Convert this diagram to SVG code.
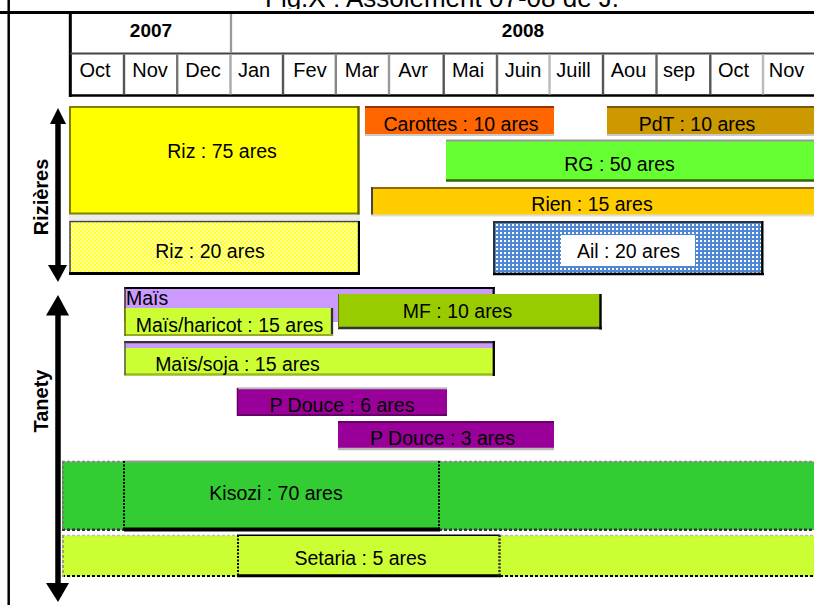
<svg xmlns="http://www.w3.org/2000/svg" width="814" height="605" viewBox="0 0 814 605">
<defs>
<style>
text{font-family:"Liberation Sans",Arial,sans-serif;fill:#000}
.lbl{font-size:19.5px;text-anchor:middle}
.mon{font-size:20px;text-anchor:middle}
.yr{font-size:19px;font-weight:bold;text-anchor:middle}
.ax{font-size:20px;font-weight:bold;text-anchor:middle}
.dv{stroke-width:2.4}
.ah{fill:#000}
.dash{fill:none;stroke-dasharray:3 2}
</style>
<pattern id="pyel" width="4" height="4" patternUnits="userSpaceOnUse">
<rect width="4" height="4" fill="#ffff33"/>
<rect width="2" height="2" fill="#ffffa0"/>
<rect x="2" y="2" width="2" height="2" fill="#ffffa0"/>
</pattern>
<pattern id="pblue" width="4" height="4" patternUnits="userSpaceOnUse">
<rect width="4" height="4" fill="#4f86d6"/>
<rect width="2" height="2" fill="#ffffff"/>
</pattern>
<clipPath id="tclip"><rect x="0" y="0" width="814" height="9"/></clipPath>
</defs>
<rect width="814" height="605" fill="#fff"/>

<g id="title" clip-path="url(#tclip)">
<text x="265" y="7" font-size="26">Fig.X : Assolement 07-08 de J.</text>
</g>

<g id="frame" stroke="#000">
<line x1="8.7" y1="0" x2="8.7" y2="605" stroke-width="2.5"/>
<line x1="0" y1="12.5" x2="814" y2="12.5" stroke-width="3"/>
</g>

<g id="header">
<line x1="70.3" y1="12" x2="70.3" y2="97" stroke="#000" stroke-width="3"/>
<line x1="70" y1="53.5" x2="814" y2="53.5" stroke="#444" stroke-width="1.8"/>
<line x1="69" y1="95.5" x2="814" y2="95.5" stroke="#000" stroke-width="2.5"/>
<line x1="231" y1="14" x2="231" y2="53" stroke="#999" stroke-width="2.3"/>
<g class="dv">
<line x1="124" y1="54.5" x2="124" y2="94.5" stroke="#555"/>
<line x1="177.2" y1="54.5" x2="177.2" y2="94.5" stroke="#777"/>
<line x1="230.5" y1="54.5" x2="230.5" y2="94.5" stroke="#aaa"/>
<line x1="283" y1="54.5" x2="283" y2="94.5" stroke="#555"/>
<line x1="335.8" y1="54.5" x2="335.8" y2="94.5" stroke="#888"/>
<line x1="389" y1="54.5" x2="389" y2="94.5" stroke="#999"/>
<line x1="443.7" y1="54.5" x2="443.7" y2="94.5" stroke="#555"/>
<line x1="497" y1="54.5" x2="497" y2="94.5" stroke="#666"/>
<line x1="549.5" y1="54.5" x2="549.5" y2="94.5" stroke="#bbb"/>
<line x1="603" y1="54.5" x2="603" y2="94.5" stroke="#555"/>
<line x1="656.5" y1="54.5" x2="656.5" y2="94.5" stroke="#666"/>
<line x1="710.3" y1="54.5" x2="710.3" y2="94.5" stroke="#555"/>
<line x1="763" y1="54.5" x2="763" y2="94.5" stroke="#bbb"/>
</g>
<text class="yr" x="151" y="37">2007</text>
<text class="yr" x="523" y="37">2008</text>
<text class="mon" x="95" y="77">Oct</text>
<text class="mon" x="150" y="77">Nov</text>
<text class="mon" x="203" y="77">Dec</text>
<text class="mon" x="254" y="77">Jan</text>
<text class="mon" x="310" y="77">Fev</text>
<text class="mon" x="362" y="77">Mar</text>
<text class="mon" x="413" y="77">Avr</text>
<text class="mon" x="468" y="77">Mai</text>
<text class="mon" x="523" y="77">Juin</text>
<text class="mon" x="573.5" y="77">Juill</text>
<text class="mon" x="628.5" y="77">Aou</text>
<text class="mon" x="679" y="77">sep</text>
<text class="mon" x="733.5" y="77">Oct</text>
<text class="mon" x="786.5" y="77">Nov</text>
</g>

<g id="axis-labels">
<text class="ax" transform="translate(47.5,197) rotate(-90)">Rizières</text>
<text class="ax" transform="translate(47.5,401) rotate(-90)">Tanety</text>
</g>

<g id="connectors">
<line x1="58" y1="120" x2="58" y2="268" stroke="#000" stroke-width="5.5"/>
<polygon class="ah" points="58,108 50,124 66,124"/>
<polygon class="ah" points="48,265 67,265 58,282"/>
<line x1="58" y1="312" x2="58" y2="586" stroke="#000" stroke-width="5.5"/>
<polygon class="ah" points="58,295 46,315.5 69,315.5"/>
<polygon class="ah" points="46,583 69,583 58,602"/>
</g>

<g id="riz75">
<rect x="69" y="214" width="291" height="6" fill="#ececec"/>
<rect x="70" y="107" width="288.5" height="106.5" fill="#ffff00" stroke="#808000" stroke-width="2"/>
<line x1="358.5" y1="106" x2="358.5" y2="214.5" stroke="#5c5c00" stroke-width="2"/>
<text class="lbl" x="222" y="158">Riz : 75 ares</text>
</g>

<g id="riz20">
<rect x="70" y="221.5" width="288.5" height="51.5" fill="url(#pyel)" stroke="#444" stroke-width="1.5"/>
<line x1="69" y1="273.5" x2="360" y2="273.5" stroke="#000" stroke-width="3"/>
<line x1="359" y1="221" x2="359" y2="275" stroke="#000" stroke-width="2"/>
<text class="lbl" x="210" y="258">Riz : 20 ares</text>
</g>

<g id="carottes">
<rect x="365" y="107" width="189" height="27.5" fill="#ff6600"/>
<line x1="365" y1="107" x2="554" y2="107" stroke="#993300" stroke-width="2"/>
<line x1="365" y1="135" x2="554" y2="135" stroke="#c8c8c8" stroke-width="2"/>
<text class="lbl" x="461" y="131">Carottes : 10 ares</text>
</g>

<g id="pdt">
<rect x="607" y="107" width="207" height="27.5" fill="#cc9900"/>
<line x1="607" y1="107" x2="814" y2="107" stroke="#7a5c00" stroke-width="2"/>
<line x1="607" y1="135" x2="814" y2="135" stroke="#c8c8c8" stroke-width="2"/>
<text class="lbl" x="697" y="131">PdT : 10 ares</text>
</g>

<g id="rg">
<rect x="446" y="140" width="368" height="41" fill="#66ff33"/>
<line x1="446" y1="140.5" x2="814" y2="140.5" stroke="#999" stroke-width="2.2"/>
<line x1="446" y1="180.5" x2="814" y2="180.5" stroke="#336600" stroke-width="2.5"/>
<text class="lbl" x="619.5" y="171">RG : 50 ares</text>
</g>

<g id="rien">
<rect x="371" y="188" width="443" height="27" fill="#ffcc00"/>
<line x1="371" y1="188" x2="814" y2="188" stroke="#996600" stroke-width="2"/>
<line x1="372" y1="187" x2="372" y2="215" stroke="#444" stroke-width="2"/>
<line x1="371" y1="215.5" x2="814" y2="215.5" stroke="#ddd" stroke-width="2"/>
<text class="lbl" x="592" y="211">Rien : 15 ares</text>
</g>

<g id="ail">
<rect x="494" y="222" width="268" height="52" fill="url(#pblue)" stroke="#333" stroke-width="2"/>
<line x1="493" y1="274" x2="764" y2="274" stroke="#000" stroke-width="2.5"/>
<line x1="762.5" y1="221" x2="762.5" y2="275" stroke="#000" stroke-width="2"/>
<rect x="561" y="235" width="134" height="31" fill="#fff"/>
<text class="lbl" x="628.5" y="258">Ail : 20 ares</text>
</g>

<g id="mais">
<rect x="124.5" y="288" width="369" height="34" fill="#cc99ff"/>
<line x1="124" y1="288" x2="495" y2="288" stroke="#000" stroke-width="2.2"/>
<line x1="125" y1="287" x2="125" y2="322" stroke="#333" stroke-width="1.5"/>
<line x1="493.7" y1="287" x2="493.7" y2="322" stroke="#000" stroke-width="2.2"/>
<text x="126" y="305" font-size="19.5">Maïs</text>
</g>

<g id="mais-haricot">
<rect x="124.5" y="308" width="208" height="27" fill="#ccff33"/>
<line x1="332" y1="308" x2="332" y2="336" stroke="#333" stroke-width="2.3"/>
<line x1="124.5" y1="335" x2="333" y2="335" stroke="#99aa22" stroke-width="2"/>
<line x1="125" y1="308" x2="125" y2="336" stroke="#666600" stroke-width="1.5"/>
<text class="lbl" x="229.5" y="332">Maïs/haricot : 15 ares</text>
</g>

<g id="mf">
<rect x="338" y="294" width="263" height="34" fill="#99cc00"/>
<line x1="338" y1="328" x2="602" y2="328" stroke="#333" stroke-width="2.6"/>
<line x1="600.5" y1="294" x2="600.5" y2="329.5" stroke="#000" stroke-width="2.4"/>
<line x1="338.5" y1="294" x2="338.5" y2="328" stroke="#5c7a00" stroke-width="1"/>
<text class="lbl" x="457.5" y="318">MF : 10 ares</text>
</g>

<g id="mais-soja">
<rect x="124.5" y="343" width="369" height="32" fill="#ccff33"/>
<rect x="124.5" y="343" width="369" height="5" fill="#cc99ff"/>
<line x1="124" y1="342.2" x2="495" y2="342.2" stroke="#333" stroke-width="2.3"/>
<line x1="124" y1="374.5" x2="494" y2="374.5" stroke="#99bb22" stroke-width="2.3"/>
<line x1="493.8" y1="341" x2="493.8" y2="376" stroke="#000" stroke-width="2.3"/>
<line x1="125" y1="342" x2="125" y2="375" stroke="#555" stroke-width="1.5"/>
<text class="lbl" x="237.5" y="371">Maïs/soja : 15 ares</text>
</g>

<g id="pdouce6">
<rect x="237" y="388" width="210" height="27" fill="#990099"/>
<line x1="237" y1="388.3" x2="447" y2="388.3" stroke="#bbb" stroke-width="2"/>
<line x1="237" y1="415" x2="447" y2="415" stroke="#660066" stroke-width="2"/>
<line x1="237.5" y1="388" x2="237.5" y2="416" stroke="#660066" stroke-width="1.5"/>
<text class="lbl" x="342" y="412">P Douce : 6 ares</text>
</g>

<g id="pdouce3">
<rect x="338" y="422" width="216" height="27" fill="#990099"/>
<line x1="338" y1="422" x2="554" y2="422" stroke="#660066" stroke-width="2"/>
<line x1="338" y1="449" x2="554" y2="449" stroke="#bbb" stroke-width="2.6"/>
<text class="lbl" x="442.5" y="445">P Douce : 3 ares</text>
</g>

<g id="kisozi">
<rect x="62" y="461.5" width="752" height="68.5" fill="#33cc33"/>
<path class="dash" d="M62 461.7H124M439 461.7H814" stroke="#888" stroke-width="2"/>
<path class="dash" d="M62 529.8H124M439 529.8H814" stroke="#333" stroke-width="2.5"/>
<line class="dash" x1="63" y1="461" x2="63" y2="530" stroke="#777" stroke-width="2"/>
<line x1="124" y1="461.5" x2="439" y2="461.5" stroke="#999" stroke-width="2"/>
<line x1="124" y1="529.5" x2="440" y2="529.5" stroke="#000" stroke-width="4"/>
<line x1="124" y1="461" x2="124" y2="530" stroke="#000" stroke-width="2" stroke-dasharray="2 1.5"/>
<line x1="439" y1="461" x2="439" y2="530" stroke="#000" stroke-width="2" stroke-dasharray="2 1.5"/>
<text class="lbl" x="276" y="500">Kisozi : 70 ares</text>
</g>

<g id="setaria">
<rect x="62" y="535.5" width="752" height="41" fill="#ccff33"/>
<path class="dash" d="M62 535.5H237M500 535.5H814" stroke="#bbb" stroke-width="1.5"/>
<path class="dash" d="M62 576H237M500 576H814" stroke="#000" stroke-width="2"/>
<line class="dash" x1="63" y1="535" x2="63" y2="577" stroke="#999" stroke-width="2"/>
<line x1="237" y1="535.2" x2="500" y2="535.2" stroke="#000" stroke-width="1.5"/>
<line x1="237" y1="575.8" x2="501" y2="575.8" stroke="#000" stroke-width="3"/>
<line x1="238" y1="535" x2="238" y2="577" stroke="#000" stroke-width="2" stroke-dasharray="2 1.5"/>
<line x1="499.5" y1="535" x2="499.5" y2="577" stroke="#333" stroke-width="2.5" stroke-dasharray="2 1.5"/>
<text class="lbl" x="360.5" y="565">Setaria : 5 ares</text>
</g>
</svg>
